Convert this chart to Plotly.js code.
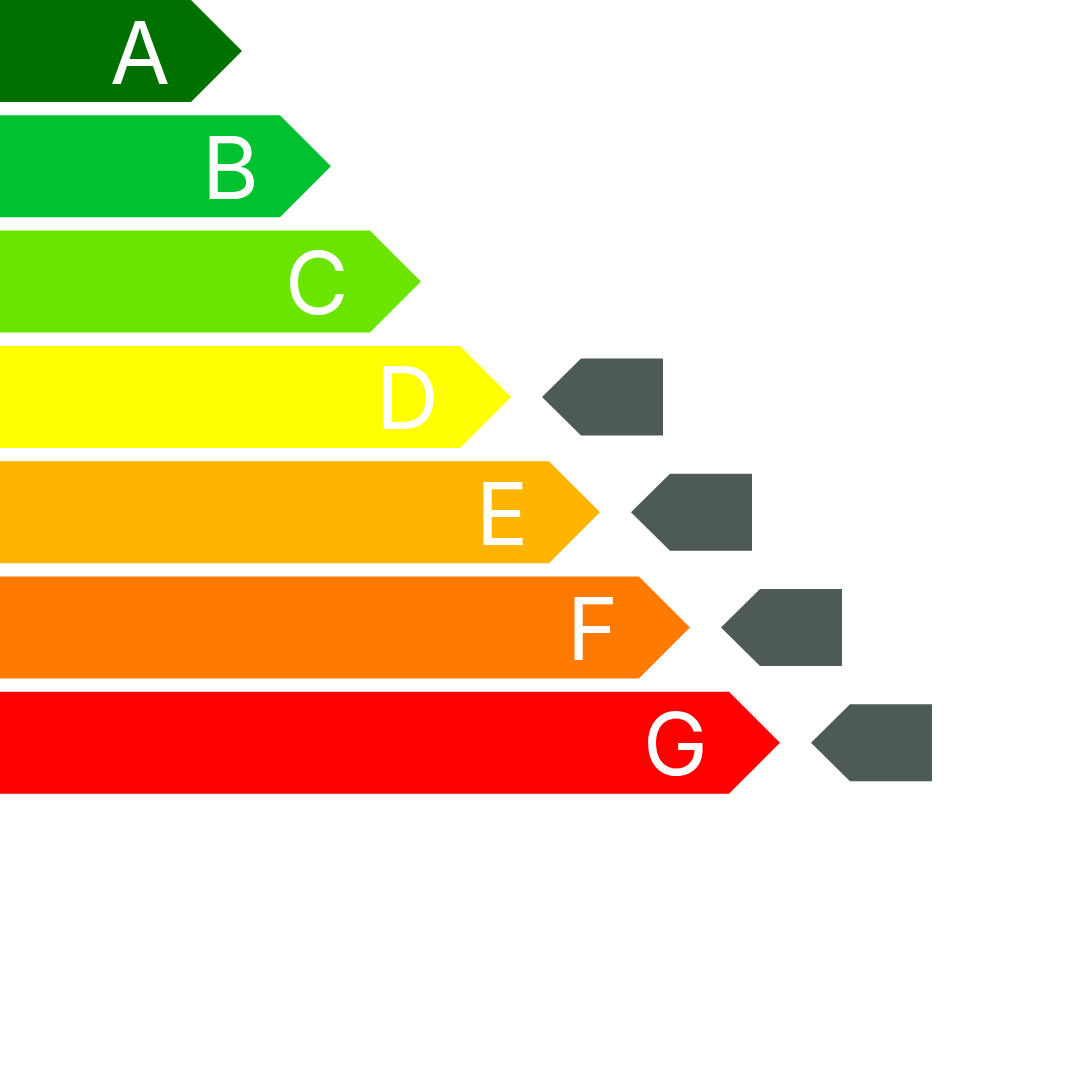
<!DOCTYPE html>
<html>
<head>
<meta charset="utf-8">
<script src="https://cdn.plot.ly/plotly-3.0.1.min.js"></script>
<style>html,body{margin:0;padding:0;background:#fff;}#chart{width:1080px;height:1080px;}</style>
</head>
<body>
<div id="chart"></div>
<script>
// ---- data ----
const ratings = ['A', 'B', 'C', 'D', 'E', 'F', 'G'];
const ratingColors = ['#007100', '#00c12e', '#6be500', '#ffff00', '#ffb400', '#ff7a00', '#ff0000'];
const bandLength = [242, 331, 421, 511, 600, 690, 780];
const pointerRatings = ['D', 'E', 'F', 'G'];
const pointerColor = '#4d5a58';

// ---- geometry (styles) ----
const rowPitch = 115.3;
const bandHeight = 102;
const tipDepth = 51;
const pointerGap = 31;
const pointerWidth = 121;
const pointerHeight = 77;
const pointerTip = 39;
const labelInset = 19;

const traces = [];
const annotations = [];

ratings.forEach((r, i) => {
  const top = i * rowPitch;
  const mid = top + bandHeight / 2;
  const end = bandLength[i];
  traces.push({
    type: 'scatter', mode: 'lines', fill: 'toself',
    x: [0, end - tipDepth, end, end - tipDepth, 0, 0],
    y: [top, top, mid, top + bandHeight, top + bandHeight, top],
    fillcolor: ratingColors[i], line: {width: 0, color: ratingColors[i]},
    hoverinfo: 'text', text: r, showlegend: false
  });
  annotations.push({
    x: end - tipDepth - labelInset, y: mid, xref: 'x', yref: 'y',
    xanchor: 'right', yanchor: 'middle', showarrow: false, text: r,
    font: {family: 'Inter, "Open Sans", sans-serif', size: 87, color: '#ffffff', weight: 400},
    yshift: -1
  });
});

pointerRatings.forEach(r => {
  const i = ratings.indexOf(r);
  const mid = i * rowPitch + bandHeight / 2;
  const start = bandLength[i] + pointerGap;
  const h = pointerHeight / 2;
  traces.push({
    type: 'scatter', mode: 'lines', fill: 'toself',
    x: [start, start + pointerTip, start + pointerWidth, start + pointerWidth, start + pointerTip, start],
    y: [mid, mid - h, mid - h, mid + h, mid + h, mid],
    fillcolor: pointerColor, line: {width: 0, color: pointerColor},
    hoverinfo: 'skip', showlegend: false
  });
});

const layout = {
  width: 1080, height: 1080,
  margin: {l: 0, r: 0, t: 0, b: 0, pad: 0},
  paper_bgcolor: '#ffffff', plot_bgcolor: '#ffffff',
  showlegend: false,
  xaxis: {range: [0, 1080], visible: false, fixedrange: true},
  yaxis: {range: [1080, 0], visible: false, fixedrange: true},
  annotations: annotations
};

Plotly.newPlot('chart', traces, layout, {displayModeBar: false, staticPlot: true});
</script>
</body>
</html>
